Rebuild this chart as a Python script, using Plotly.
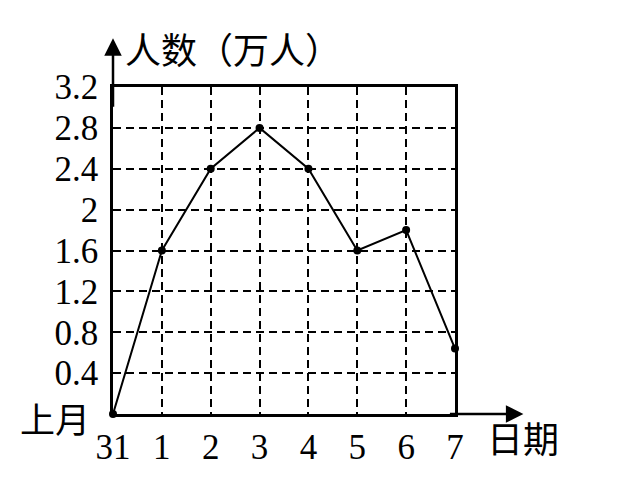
import plotly.graph_objects as go

# 日期 (上月31日 到 7日) 和 人数 (万人)
dates = ["31", "1", "2", "3", "4", "5", "6", "7"]
people = [0, 1.6, 2.4, 2.8, 2.4, 1.6, 1.8, 0.64]
y_ticks = [0.4, 0.8, 1.2, 1.6, 2.0, 2.4, 2.8, 3.2]
y_labels = ["0.4", "0.8", "1.2", "1.6", "2", "2.4", "2.8", "3.2"]

num_font = dict(family="Liberation Serif, Noto Sans CJK SC", size=35, color="black")
cjk_font = dict(family="Noto Sans CJK SC, Liberation Serif", size=36, color="black")

fig = go.Figure()
fig.add_trace(go.Scatter(
    x=dates, y=people, mode="lines+markers",
    line=dict(color="black", width=2),
    marker=dict(color="black", size=8),
    cliponaxis=False, showlegend=False,
))

fig.update_xaxes(
    type="category", range=[0, 7],
    showline=True, linecolor="black", linewidth=2.5, mirror=True,
    showgrid=True, gridcolor="black", gridwidth=2, griddash="8px,5px",
    ticks="", tickfont=num_font, ticklabelstandoff=0,
    zeroline=False,
)
fig.update_yaxes(
    range=[0, 3.2], tickvals=y_ticks, ticktext=y_labels,
    showline=True, linecolor="black", linewidth=2.5, mirror=True,
    showgrid=True, gridcolor="black", gridwidth=2, griddash="8px,5px",
    ticks="", tickfont=num_font, ticklabelstandoff=5,
    zeroline=False,
)

# 坐标轴箭头
fig.add_annotation(x=1.2, y=0, xref="x domain", yref="y domain",
                   ax=-75, ay=0, axref="pixel", ayref="pixel", text="",
                   showarrow=True, arrowhead=2, arrowsize=1.4, arrowwidth=2.5,
                   arrowcolor="black")
fig.add_annotation(x=0, y=1.149, xref="x domain", yref="y domain",
                   ax=0, ay=70, axref="pixel", ayref="pixel", text="",
                   showarrow=True, arrowhead=2, arrowsize=1.4, arrowwidth=2.5,
                   arrowcolor="black")

fig.add_annotation(x=0, y=1.119, xref="paper", yref="paper", xshift=10,
                   xanchor="left", yanchor="middle", text="人数（万人）",
                   showarrow=False, font=cjk_font)
fig.add_annotation(x=1.088, y=-0.07, xref="paper", yref="paper",
                   xanchor="left", yanchor="middle", text="日期",
                   showarrow=False, font=cjk_font)
fig.add_annotation(x=0, y=0.0, xref="paper", yref="paper", xshift=-21,
                   yshift=-3, xanchor="right", yanchor="middle", text="上月",
                   showarrow=False, font=dict(cjk_font, size=35))

# 页面自带 8px 边距, 所以图的尺寸减去它
fig.update_layout(
    width=616, height=471,
    margin=dict(l=105, r=169, t=79, b=56),
    plot_bgcolor="white", paper_bgcolor="white",
)

fig.write_html("out.html")
